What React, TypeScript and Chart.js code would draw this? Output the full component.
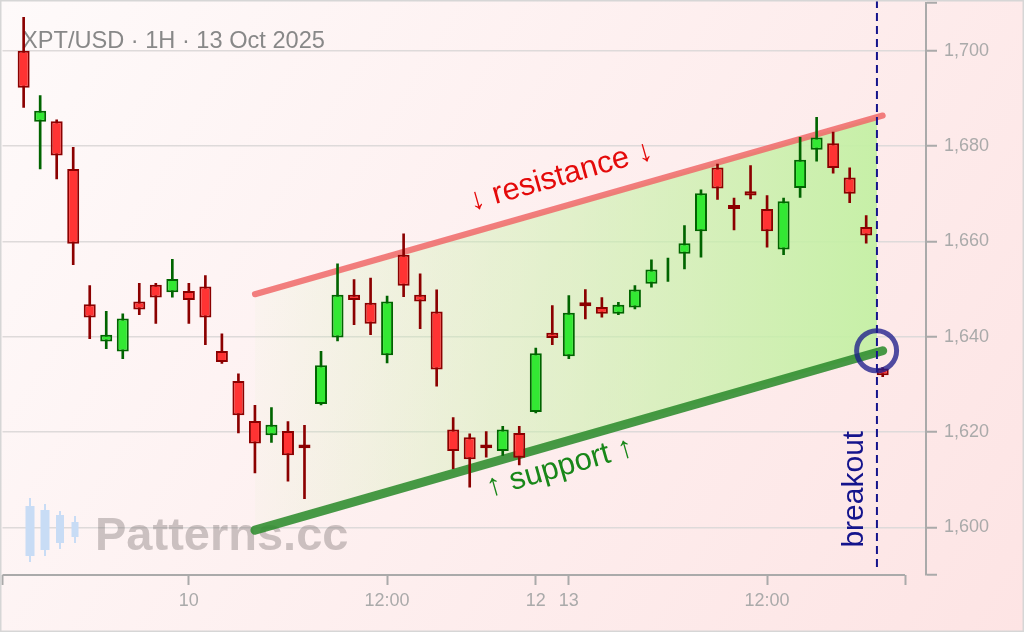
import { useEffect, useRef } from 'react';
import { Chart, registerables } from 'chart.js';

Chart.register(...registerables);

// ---- data (hourly candles, XPT/USD) ----
const OPEN = [
  1700.0, 1685.1, 1685.2, 1675.2, 1646.8, 1639.0, 1636.9, 1647.4, 1650.9, 1649.3,
  1649.6, 1650.5, 1637.0, 1630.7, 1622.3, 1619.3, 1620.2, 1617.4, 1625.9, 1639.8,
  1648.8, 1647.1, 1636.1, 1657.2, 1648.8, 1645.3, 1620.5, 1618.9, 1617.4, 1616.0,
  1619.8, 1624.2, 1640.8, 1635.9, 1647.2, 1646.2, 1644.8, 1646.1, 1651.1, 1654.0,
  1657.4, 1662.1, 1675.5, 1667.6, 1670.5, 1666.8, 1658.3, 1671.2, 1679.2, 1680.6,
  1673.4, 1663.0, 1633.3,
];
const HIGH = [
  1707.0, 1690.6, 1685.5, 1679.7, 1650.7, 1645.3, 1644.8, 1651.2, 1651.2, 1656.2,
  1651.2, 1652.8, 1640.6, 1632.2, 1625.6, 1625.1, 1622.2, 1621.4, 1636.9, 1655.3,
  1652.0, 1652.3, 1648.5, 1661.6, 1653.2, 1649.8, 1623.0, 1619.6, 1620.1, 1621.2,
  1621.2, 1637.6, 1646.5, 1648.6, 1649.9, 1648.2, 1647.2, 1650.7, 1656.1, 1656.5,
  1663.3, 1670.8, 1676.2, 1669.1, 1675.9, 1669.6, 1669.1, 1681.8, 1686.0, 1682.9,
  1675.4, 1665.4, 1633.5,
];
const LOW = [
  1688.1, 1675.2, 1673.1, 1655.1, 1639.6, 1637.5, 1635.4, 1644.6, 1642.8, 1648.3,
  1642.8, 1638.3, 1634.4, 1619.8, 1611.4, 1617.8, 1609.7, 1606.0, 1625.7, 1639.1,
  1642.5, 1640.4, 1634.5, 1648.4, 1641.7, 1629.6, 1612.3, 1608.4, 1614.7, 1615.1,
  1613.1, 1624.0, 1638.3, 1635.4, 1643.7, 1644.1, 1644.6, 1645.8, 1650.4, 1651.6,
  1654.2, 1656.7, 1668.8, 1662.4, 1668.9, 1658.8, 1657.2, 1669.2, 1676.8, 1674.3,
  1668.1, 1659.6, 1631.6,
];
const CLOSE = [
  1692.2, 1687.4, 1678.0, 1659.5, 1644.0, 1640.4, 1643.8, 1645.7, 1648.2, 1652.1,
  1647.7, 1644.0, 1634.7, 1623.5, 1617.6, 1621.5, 1615.1, 1616.6, 1634.0, 1648.8,
  1647.7, 1642.7, 1647.4, 1650.7, 1647.4, 1633.1, 1616.0, 1614.3, 1616.6, 1620.5,
  1614.6, 1636.5, 1639.7, 1645.0, 1646.4, 1644.8, 1646.7, 1649.9, 1654.1, 1654.0,
  1659.6, 1670.1, 1671.1, 1666.8, 1669.6, 1662.1, 1668.4, 1677.1, 1681.8, 1675.4,
  1670.0, 1661.2, 1631.9,
];

const X_TICK_POS = [10, 22, 31, 33, 45];
const X_TICK_LABELS = ['10', '12:00', '12', '13', '12:00'];
const X_MIN = -1.28;
const X_AXIS_END = 53.35;
const X_MAX = 54.62;

const Y_MIN = 1590;
const Y_MAX = 1710;
const Y_TICKS = [1600, 1620, 1640, 1660, 1680, 1700];

const RES_X = [14, 52];
const RES_Y = [1648.9, 1686.4];
const SUP_X = [14, 52];
const SUP_Y = [1599.4, 1637.05];

const BREAKOUT_X = 51.65;
const CIRCLE_AT = { x: 51.63, y: 1637.05 };
const RES_LABEL_AT = { x: 32.52, y: 1673.6 };
const SUP_LABEL_AT = { x: 32.46, y: 1612.5 };
const BREAKOUT_LABEL_AT = { x: 50.32, y: 1608.0 };

const TITLE = 'XPT/USD · 1H · 13 Oct 2025';
const RES_TEXT = '↓ resistance ↓';
const SUP_TEXT = '↑ support ↑';
const BREAKOUT_TEXT = 'breakout';
const WATERMARK = 'Patterns.cc';

// ---- styles ----
const FONT = "'Liberation Sans', Arial, sans-serif";
const AXIS_COLOR = '#aaaaaa';
const GRID_COLOR = '#dedada';
const RED_FILL = '#ff3333';
const RED_EDGE = '#8b0000';
const GREEN_FILL = '#33e833';
const GREEN_EDGE = '#006400';
const NAVY = 'rgb(20,20,140)';

const bgPlugin = {
  id: 'bg',
  beforeDraw(chart: any) {
    const { ctx, width, height } = chart;
    ctx.save();
    const g = ctx.createLinearGradient(0, 0, width, height);
    g.addColorStop(0, '#fefafa');
    g.addColorStop(1, '#fde4e4');
    ctx.fillStyle = g;
    ctx.fillRect(0, 0, width, height);
    ctx.restore();
  },
  afterDraw(chart: any) {
    const { ctx, width, height } = chart;
    ctx.save();
    ctx.strokeStyle = '#d6d6d6';
    ctx.lineWidth = 1.5;
    ctx.strokeRect(0.75, 0.75, width - 1.5, height - 1.5);
    ctx.restore();
  },
};

const underPlugin = {
  id: 'under',
  beforeDatasetsDraw(chart: any) {
    const { ctx, chartArea } = chart;
    const xs = chart.scales.x;
    const r = chart.getDatasetMeta(2).data;
    const s = chart.getDatasetMeta(3).data;
    const bx = xs.getPixelForValue(BREAKOUT_X);
    ctx.save();
    // channel fill
    ctx.beginPath();
    ctx.rect(chartArea.left, chartArea.top, bx - chartArea.left, chartArea.bottom - chartArea.top);
    ctx.clip();
    const g = ctx.createLinearGradient(r[0].x, 0, bx, 0);
    g.addColorStop(0, 'rgba(200,242,170,0.06)');
    g.addColorStop(1, 'rgba(196,240,164,0.95)');
    ctx.fillStyle = g;
    ctx.beginPath();
    ctx.moveTo(r[0].x, r[0].y);
    ctx.lineTo(r[1].x, r[1].y);
    ctx.lineTo(s[1].x, s[1].y);
    ctx.lineTo(s[0].x, s[0].y);
    ctx.closePath();
    ctx.fill();
    ctx.restore();

    // watermark logo
    ctx.save();
    ctx.fillStyle = '#c8dcf5';
    const logo = [
      [30, 498, 562, 506, 556, 9],
      [45, 504, 556, 510, 550, 9],
      [60, 511, 549, 515, 543, 8],
      [75, 516, 543, 522, 537, 7],
    ];
    logo.forEach(([x, wt, wb, bt, bb, w]) => {
      ctx.fillRect(x - 1, wt, 2, wb - wt);
      ctx.fillRect(x - w / 2, bt, w, bb - bt);
    });
    ctx.font = `bold 47px ${FONT}`;
    ctx.fillStyle = 'rgba(110,100,100,0.35)';
    ctx.textBaseline = 'alphabetic';
    ctx.fillText(WATERMARK, 95, 550);

    // title
    ctx.font = `23.6px ${FONT}`;
    ctx.fillStyle = '#888888';
    ctx.fillText(TITLE, 22, 48);
    ctx.restore();
  },
};

const overPlugin = {
  id: 'over',
  afterDatasetsDraw(chart: any) {
    const { ctx, chartArea } = chart;
    const xs = chart.scales.x;
    const ys = chart.scales.y;
    ctx.save();

    // x axis spine (bounded)
    ctx.strokeStyle = AXIS_COLOR;
    ctx.lineWidth = 2;
    ctx.beginPath();
    ctx.moveTo(xs.getPixelForValue(X_MIN), chartArea.bottom);
    ctx.lineTo(xs.getPixelForValue(X_AXIS_END), chartArea.bottom);
    ctx.stroke();

    // breakout dashed line
    const bx = xs.getPixelForValue(BREAKOUT_X);
    ctx.strokeStyle = NAVY;
    ctx.lineWidth = 2;
    ctx.setLineDash([8, 5]);
    ctx.beginPath();
    ctx.moveTo(bx, 0);
    ctx.lineTo(bx, chartArea.bottom - 4);
    ctx.stroke();
    ctx.setLineDash([]);

    // circle
    ctx.strokeStyle = 'rgba(30,30,140,0.78)';
    ctx.lineWidth = 5;
    ctx.beginPath();
    ctx.arc(xs.getPixelForValue(CIRCLE_AT.x), ys.getPixelForValue(CIRCLE_AT.y), 20, 0, Math.PI * 2);
    ctx.stroke();

    // labels
    const r = chart.getDatasetMeta(2).data;
    const s = chart.getDatasetMeta(3).data;
    const ra = Math.atan2(r[1].y - r[0].y, r[1].x - r[0].x);
    const sa = Math.atan2(s[1].y - s[0].y, s[1].x - s[0].x);
    ctx.textAlign = 'center';
    ctx.textBaseline = 'middle';

    ctx.save();
    ctx.translate(xs.getPixelForValue(RES_LABEL_AT.x), ys.getPixelForValue(RES_LABEL_AT.y));
    ctx.rotate(ra);
    ctx.font = `31px ${FONT}`;
    ctx.fillStyle = 'rgb(228,10,10)';
    ctx.fillText(RES_TEXT, 0, 0);
    ctx.restore();

    ctx.save();
    ctx.translate(xs.getPixelForValue(SUP_LABEL_AT.x), ys.getPixelForValue(SUP_LABEL_AT.y));
    ctx.rotate(sa);
    ctx.font = `31px ${FONT}`;
    ctx.fillStyle = 'rgb(25,135,25)';
    ctx.fillText(SUP_TEXT, 0, 0);
    ctx.restore();

    ctx.save();
    ctx.translate(xs.getPixelForValue(BREAKOUT_LABEL_AT.x), ys.getPixelForValue(BREAKOUT_LABEL_AT.y));
    ctx.rotate(-Math.PI / 2);
    ctx.font = `30px ${FONT}`;
    ctx.fillStyle = NAVY;
    ctx.fillText(BREAKOUT_TEXT, 0, 0);
    ctx.restore();

    ctx.restore();
  },
};

export default function App() {
  const ref = useRef<HTMLCanvasElement | null>(null);

  useEffect(() => {
    document.body.style.margin = '0';
    if (!ref.current) return;
    Chart.defaults.font.family = FONT;
    const idx = OPEN.map((_, i) => i);
    const up = idx.map((i) => CLOSE[i] >= OPEN[i]);

    const chart = new Chart(ref.current, {
      type: 'bar',
      data: {
        datasets: [
          {
            type: 'bar',
            label: 'wick',
            data: idx.map((i) => ({ x: i, y: [LOW[i], HIGH[i]] })) as any,
            backgroundColor: up.map((u) => (u ? GREEN_EDGE : RED_EDGE)),
            borderWidth: 0,
            barThickness: 2,
            grouped: false,
            order: 2,
          } as any,
          {
            type: 'bar',
            label: 'body',
            data: idx.map((i) => ({ x: i, y: [OPEN[i], CLOSE[i]] })) as any,
            backgroundColor: up.map((u) => (u ? GREEN_FILL : RED_FILL)),
            borderColor: up.map((u) => (u ? GREEN_EDGE : RED_EDGE)),
            borderWidth: 2,
            borderSkipped: false,
            inflateAmount: 0,
            barThickness: 12,
            grouped: false,
            order: 1,
          } as any,
          {
            type: 'line',
            label: 'resistance',
            data: RES_X.map((x, k) => ({ x, y: RES_Y[k] })),
            borderColor: 'rgba(240,105,105,0.85)',
            borderWidth: 6,
            borderCapStyle: 'round',
            pointRadius: 0,
            fill: false,
            tension: 0,
            order: 3,
          } as any,
          {
            type: 'line',
            label: 'support',
            data: SUP_X.map((x, k) => ({ x, y: SUP_Y[k] })),
            borderColor: 'rgba(45,140,45,0.88)',
            borderWidth: 9,
            borderCapStyle: 'round',
            pointRadius: 0,
            fill: false,
            tension: 0,
            order: 3,
          } as any,
        ],
      },
      options: {
        animation: false,
        responsive: true,
        maintainAspectRatio: false,
        events: [],
        layout: { padding: { left: 2.5, top: 3, right: 0, bottom: 0 } },
        plugins: { legend: { display: false }, tooltip: { enabled: false } },
        scales: {
          x: {
            type: 'linear',
            min: X_MIN,
            max: X_MAX,
            offset: false,
            afterBuildTicks: (s: any) => {
              s.ticks = [X_MIN, ...X_TICK_POS, X_AXIS_END].map((v) => ({ value: v }));
            },
            afterFit: (s: any) => {
              s.height = 57;
              s.paddingLeft = 0;
              s.paddingRight = 0;
            },
            ticks: {
              autoSkip: false,
              maxRotation: 0,
              minRotation: 0,
              color: AXIS_COLOR,
              font: { size: 18, family: FONT },
              padding: 5,
              callback: (v: any) => {
                const k = X_TICK_POS.indexOf(Number(v));
                return k >= 0 ? X_TICK_LABELS[k] : '';
              },
            },
            grid: {
              drawOnChartArea: false,
              drawTicks: true,
              tickLength: 10,
              tickColor: AXIS_COLOR,
              tickWidth: 2,
              offset: false,
            },
            border: { display: false },
          } as any,
          y: {
            type: 'linear',
            position: 'right',
            min: Y_MIN,
            max: Y_MAX,
            afterBuildTicks: (s: any) => {
              s.ticks = [Y_MIN, ...Y_TICKS, Y_MAX].map((v) => ({ value: v }));
            },
            afterFit: (s: any) => {
              s.width = 98;
              s.paddingTop = 0;
              s.paddingBottom = 0;
            },
            ticks: {
              color: AXIS_COLOR,
              font: { size: 18, family: FONT },
              padding: 7,
              callback: (v: any) =>
                Y_TICKS.includes(Number(v)) ? Number(v).toLocaleString('en-US') : '',
            },
            grid: {
              color: (c: any) =>
                c.tick && Y_TICKS.includes(c.tick.value) ? GRID_COLOR : 'rgba(0,0,0,0)',
              lineWidth: 1.5,
              drawTicks: true,
              tickLength: 11,
              tickColor: AXIS_COLOR,
              tickWidth: 2,
            },
            border: { display: true, color: AXIS_COLOR, width: 2 },
          } as any,
        },
      },
      plugins: [bgPlugin, underPlugin, overPlugin],
    });

    return () => chart.destroy();
  }, []);

  return (
    <div style={{ width: 1024, height: 632, position: 'relative' }}>
      <canvas ref={ref} />
    </div>
  );
}
